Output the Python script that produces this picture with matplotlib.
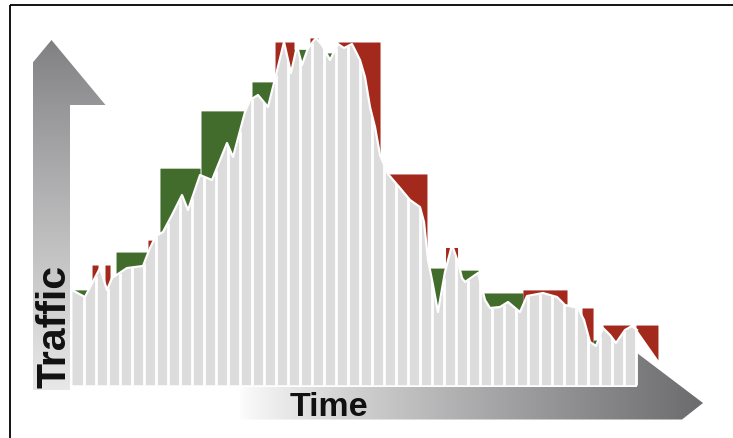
import numpy as np
import matplotlib
matplotlib.use("Agg")
import matplotlib.pyplot as plt
from matplotlib.patches import Polygon

# ---------------- data ----------------
# traffic curve: time (slots) and traffic (% of peak)
time = [0, 1.083, 2.333, 2.917, 3.333, 4.583, 5.917, 6.5, 7.0, 7.583,
        8.333, 9.167, 9.667, 10.667, 11.667, 12.917, 13.417, 14.417, 14.833, 15.5,
        16.333, 17.0, 17.667, 18.25, 18.75, 19.167, 19.667, 20.333, 20.833, 21.5,
        22.167, 22.667, 23.333, 24.0, 24.417, 24.833, 25.25, 25.667, 26.333, 27.333,
        28.167, 29.0, 29.333, 29.667, 30.083, 30.5, 31.083, 31.667, 32.167, 32.5,
        32.75, 33.833, 34.417, 34.833, 35.667, 36.333, 37.333, 37.917, 39.25, 40.417,
        41.083, 42.167, 42.667, 43.167, 43.667, 44.25, 44.833, 45.333, 46.083, 46.667,
        47.083, 48.833]
traffic = [27.27, 25.22, 33.72, 27.27, 30.79, 33.72, 34.31, 39.59, 43.11, 44.28,
           49.27, 55.13, 50.73, 61.0, 59.53, 70.38, 66.28, 79.47, 82.99, 84.46,
           80.94, 90.32, 100.0, 90.91, 98.83, 93.26, 98.24, 101.17, 99.12, 94.72,
           99.41, 98.24, 99.41, 94.72, 89.74, 80.94, 75.07, 66.86, 61.29, 57.18,
           53.67, 51.61, 47.21, 36.07, 28.74, 20.82, 32.55, 40.47, 35.48, 30.79,
           29.62, 32.26, 24.34, 21.99, 22.29, 23.75, 20.82, 25.51, 26.39, 25.22,
           22.87, 21.99, 18.48, 12.02, 10.85, 16.13, 14.08, 11.73, 15.54, 16.72,
           15.54, 6.74]
bars_end = 47.083   # last time slot with bars

# capacity steps
cap_start = [0, 1.67, 2.75, 3.67, 6.33, 7.33, 10.75, 15.0, 16.92, 18.5, 19.83, 21.0,
             22.17, 26.33, 29.58, 31.17, 32.33, 34.08, 37.58, 42.5, 43.42, 44.25, 47.0]
cap_end = [1.5, 2.17, 3.17, 6.33, 6.75, 10.67, 14.42, 16.92, 18.5, 19.83, 20.5, 22.0,
           25.67, 29.58, 31.08, 32.17, 33.83, 37.58, 41.25, 43.42, 44.25, 46.5, 48.83]
cap_level = [27.3, 34.6, 34.6, 38.4, 41.9, 63.0, 79.8, 88.3, 100.0, 97.7, 101.2, 96.8,
             100.0, 61.3, 33.7, 39.6, 33.1, 26.4, 27.3, 22.0, 12.6, 17.0, 17.0]
cap_kind = ["g", "r", "r", "g", "r", "g", "g", "g", "r", "g", "r", "g",
            "r", "r", "g", "r", "g", "g", "r", "r", "g", "r", "r"]

x_label = "Time"
y_label = "Traffic"

# ---------------- style ----------------
GREEN = "#416c2c"
RED = "#a4291d"
BAR = "#dcdcdc"
colors = {"g": GREEN, "r": RED}
W, H = 733, 438

fig = plt.figure(figsize=(W / 100, H / 100), dpi=100)
fig.patch.set_facecolor("white")

# decoration axes in pixel units (arrows, labels, frame)
axd = fig.add_axes([0, 0, 1, 1])
axd.axis("off")

# vertical arrow with gradient
ygrad = np.linspace(0, 1, 256) ** 0.9
top_c, bot_c = np.array([0.50, 0.50, 0.51]), np.array([0.91, 0.91, 0.91])
yarr = (top_c[None, :] * (1 - ygrad[:, None]) + bot_c[None, :] * ygrad[:, None])[:, None, :]
im1 = axd.imshow(yarr, extent=(33, 106, 390, 40), aspect="auto",
                 interpolation="bilinear", zorder=1)
p1 = Polygon([(33, 390), (33, 62.3), (51.5, 40), (105.5, 105), (70, 105), (70, 390)],
             closed=True, facecolor="none", edgecolor="none", transform=axd.transData)
axd.add_patch(p1)
im1.set_clip_path(p1)

# horizontal arrow with gradient
xgrad = np.linspace(0, 1, 256) ** 0.85
l_c, r_c = np.array([0.99, 0.99, 0.99]), np.array([0.42, 0.42, 0.43])
xarr = (l_c[None, :] * (1 - xgrad[:, None]) + r_c[None, :] * xgrad[:, None])[None, :, :]
im2 = axd.imshow(xarr, extent=(240, 705, 420, 352), aspect="auto",
                 interpolation="bilinear", zorder=1)
p2 = Polygon([(240, 387), (637, 387), (637, 353), (703, 403), (682, 419.5), (240, 419.5)],
             closed=True, facecolor="none", edgecolor="none", transform=axd.transData)
axd.add_patch(p2)
im2.set_clip_path(p2)

axd.set_xlim(0, W)
axd.set_ylim(H, 0)

# frame (top and left)
axd.plot([9.5, W], [4.5, 4.5], color="black", lw=1.3, zorder=5, solid_capstyle="butt")
axd.plot([9.5, 9.5], [4.5, H], color="black", lw=1.3, zorder=5, solid_capstyle="butt")

axd.text(290, 416, x_label, family="Liberation Sans", fontweight="bold", fontsize=24.5,
         color="#111111", ha="left", va="baseline", zorder=6)
axd.text(65, 388, y_label, family="Liberation Sans", fontweight="bold", fontsize=29.5,
         color="#111111", ha="left", va="baseline", rotation=90,
         rotation_mode="anchor", zorder=6)

# data axes
ax = fig.add_axes([0, 0, 1, 1])
ax.patch.set_alpha(0)
ax.axis("off")
ax.set_xlim(-6, 55.083)
ax.set_ylim(-16.13, 112.32)

t = np.asarray(time)
v = np.asarray(traffic)

# gray area under traffic curve (bars)
tb = np.linspace(0, bars_end, 3000)
vb = np.interp(tb, t, v)
ax.fill_between(tb, -0.5, vb, color=BAR, lw=0, zorder=1)

# white separators between bars
for s in np.arange(1, bars_end, 1.0):
    ax.plot([s, s], [-0.5, np.interp(s, t, v)], color="white", lw=2.0,
            solid_capstyle="butt", zorder=2)

# capacity fills
for a, b, lev, k in zip(cap_start, cap_end, cap_level, cap_kind):
    tt = np.linspace(a, b, 400)
    cv = np.interp(tt, t, v)
    ax.fill_between(tt, cv, lev, where=lev >= cv, interpolate=True,
                    color=colors[k], lw=0, zorder=3)

# white outline of traffic curve
mask = t <= bars_end + 1e-6
ax.plot(t[mask], v[mask], color="white", lw=1.6, solid_joinstyle="round", zorder=4)

fig.savefig("out.png", dpi=100)
